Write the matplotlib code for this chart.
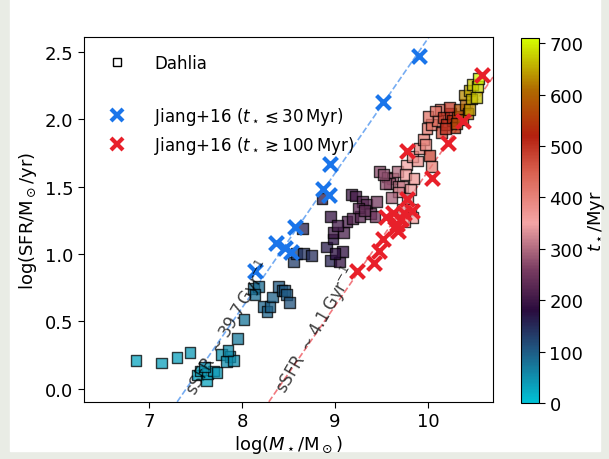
import numpy as np
import matplotlib.pyplot as plt
from matplotlib.colors import LinearSegmentedColormap
from matplotlib.lines import Line2D
from matplotlib.patches import Rectangle

plt.rcParams['font.family'] = ['DejaVu Sans']
plt.rcParams['mathtext.fontset'] = 'dejavusans'

# Dahlia galaxies: log stellar mass, log SFR, stellar age (Myr)
dahlia_logm = [6.86, 7.13, 7.30, 7.44, 7.52, 7.55, 7.62, 7.63, 7.69, 7.73, 7.60, 7.78, 7.87, 7.83, 7.91, 7.85,
               7.95, 8.02, 8.12, 8.18, 8.23, 8.27, 8.30, 8.33, 8.39, 8.43, 8.46, 8.48, 8.51, 8.14,
               8.55, 8.59, 8.66, 8.75, 8.65, 8.86, 8.91, 8.95, 8.98, 9.05, 9.08, 9.00,
               8.98, 9.09, 8.95, 9.13, 9.19, 9.27, 9.18, 9.22, 9.30, 9.34, 9.38, 9.43, 9.45, 9.25, 9.32, 9.03,
               9.48, 9.56, 9.62, 9.67, 9.59, 9.54, 9.52, 9.68, 9.73, 9.68, 9.61,
               9.77, 9.81, 9.78, 9.81, 9.84, 9.75, 9.72, 9.76, 9.85, 9.83, 9.89,
               9.91, 9.95, 9.99, 10.02, 10.04, 10.04, 10.10, 9.97, 10.00, 10.13, 10.08, 10.15,
               10.17, 10.20, 10.24, 10.26, 10.29, 10.19, 10.32, 10.23,
               10.34, 10.37, 10.40, 10.43, 10.31, 10.39,
               10.45, 10.48, 10.53, 10.54, 10.47, 10.52, 10.45]
dahlia_logsfr = [0.21, 0.19, 0.23, 0.27, 0.10, 0.13, 0.06, 0.11, 0.13, 0.12, 0.16, 0.25, 0.24, 0.20, 0.21, 0.28,
                 0.37, 0.51, 0.74, 0.76, 0.61, 0.57, 0.61, 0.68, 0.76, 0.73, 0.73, 0.70, 0.64, 0.70,
                 0.94, 1.00, 1.00, 0.99, 1.19, 1.41, 1.05, 0.95, 1.11, 0.94, 1.02, 1.00,
                 1.16, 1.16, 1.28, 1.24, 1.26, 1.28, 1.44, 1.43, 1.39, 1.37, 1.30, 1.28, 1.39, 1.34, 1.32, 1.21,
                 1.61, 1.57, 1.56, 1.61, 1.52, 1.52, 1.59, 1.50, 1.50, 1.46, 1.42,
                 1.66, 1.48, 1.41, 1.33, 1.27, 1.24, 1.33, 1.59, 1.56, 1.72, 1.69,
                 1.78, 1.85, 1.93, 1.73, 1.65, 1.96, 1.99, 1.81, 2.02, 2.07, 2.06, 1.90,
                 2.01, 1.96, 2.04, 1.99, 1.94, 1.93, 2.02, 2.09,
                 2.07, 2.00, 2.11, 2.04, 1.97, 2.18,
                 2.21, 2.26, 2.24, 2.30, 2.15, 2.16, 2.07]
dahlia_age = [30, 35, 35, 40, 25, 30, 30, 35, 40, 40, 45, 45, 50, 50, 50, 55,
              70, 75, 85, 85, 90, 90, 95, 95, 100, 100, 105, 100, 110, 80,
              130, 130, 140, 145, 160, 170, 165, 160, 175, 190, 185, 180,
              200, 210, 190, 215, 220, 225, 200, 210, 220, 230, 240, 250, 255, 225, 235, 205,
              270, 280, 290, 300, 285, 275, 275, 310, 320, 330, 290,
              350, 345, 340, 350, 355, 350, 340, 360, 365, 370, 375,
              390, 400, 410, 480, 400, 430, 440, 395, 420, 440, 430, 470,
              500, 510, 520, 530, 540, 500, 550, 490,
              580, 590, 600, 620, 570, 630,
              650, 670, 680, 700, 660, 670, 640]

# Jiang+16 young (t < 30 Myr)
young_logm = [8.14, 8.37, 8.46, 8.53, 8.57, 8.87, 8.94, 8.95, 9.52, 9.90]
young_logsfr = [0.87, 1.08, 1.04, 1.01, 1.20, 1.48, 1.44, 1.67, 2.13, 2.47]

# Jiang+16 old (t > 100 Myr)
old_logm = [9.24, 9.42, 9.47, 9.52, 9.55, 9.62, 9.67, 9.71, 9.65, 9.74, 9.77, 9.83, 9.78, 10.04,
            10.22, 10.38, 10.58, 9.68]
old_logsfr = [0.87, 0.93, 1.02, 1.11, 1.27, 1.30, 1.22, 1.26, 1.19, 1.30, 1.41, 1.32, 1.76, 1.56,
              1.82, 1.99, 2.33, 1.17]

ssfr_young = 39.7  # Gyr^-1
ssfr_old = 4.1

cmap = LinearSegmentedColormap.from_list('age', [
    (0.0, '#00c2d6'), (100 / 710, '#1f5a84'), (180 / 710, '#2a0b3d'),
    (260 / 710, '#7a3d62'), (350 / 710, '#f4a5a5'), (450 / 710, '#d9604f'),
    (520 / 710, '#b3200f'), (610 / 710, '#b06a00'), (1.0, '#d4ff00')])

fig = plt.figure(figsize=(6.09, 4.60), dpi=100, facecolor='#e9ece5')
fig.patches.append(Rectangle((10 / 609, 8 / 460), 590 / 609, 452 / 460,
                             transform=fig.transFigure, color='white', zorder=-1))
ax = fig.add_axes([84 / 609, 57 / 460, 409 / 609, 365 / 460])
cax = fig.add_axes([521 / 609, 56 / 460, 18 / 609, 365 / 460])

xx = np.array([6.3, 10.7])
ax.plot(xx, xx + np.log10(ssfr_young * 1e-9), ls='--', color='#1a75ea', alpha=0.6, lw=1.2, zorder=1)
ax.plot(xx, xx + np.log10(ssfr_old * 1e-9), ls='--', color='#e8202a', alpha=0.6, lw=1.2, zorder=1)

sc = ax.scatter(dahlia_logm, dahlia_logsfr, c=dahlia_age, cmap=cmap, vmin=0, vmax=710,
                marker='s', s=60, edgecolors='k', linewidths=1, alpha=0.75, zorder=2)
ax.scatter(young_logm, young_logsfr, marker='x', s=100, linewidths=3, color='#1a75ea', zorder=3)
ax.scatter(old_logm, old_logsfr, marker='x', s=100, linewidths=3, color='#e8202a', zorder=3)

ax.text(7.86, 0.46, r'sSFR $\sim 39.7\,$Gyr$^{-1}$', rotation=60, rotation_mode='anchor',
        ha='center', va='center', fontsize=12, color='k', alpha=0.75)
ax.text(8.80, 0.44, r'sSFR $\sim 4.1\,$Gyr$^{-1}$', rotation=60, rotation_mode='anchor',
        ha='center', va='center', fontsize=12, color='k', alpha=0.75)

ax.set_xlim(6.3, 10.7)
ax.set_ylim(-0.1, 2.61)
ax.set_xticks([7, 8, 9, 10])
ax.set_yticks([0, 0.5, 1.0, 1.5, 2.0, 2.5])
ax.set_yticklabels(['0.0', '0.5', '1.0', '1.5', '2.0', '2.5'])
ax.tick_params(labelsize=13, length=4)
ax.set_xlabel(r'log($M_\star$/M$_\odot$)', fontsize=13, labelpad=2)
ax.set_ylabel(r'log(SFR/M$_\odot$/yr)', fontsize=13, labelpad=4)

handles = [
    Line2D([], [], marker='s', ls='none', mfc='white', mec='k', ms=6, label='Dahlia'),
    Line2D([], [], ls='none', label=' '),
    Line2D([], [], marker='x', ls='none', mec='#1a75ea', mew=3, ms=8,
           label=r'Jiang+16 ($t_\star \lesssim 30\,$Myr)'),
    Line2D([], [], marker='x', ls='none', mec='#e8202a', mew=3, ms=8,
           label=r'Jiang+16 ($t_\star \gtrsim 100\,$Myr)'),
]
ax.legend(handles=handles, loc='upper left', frameon=False, fontsize=12,
          labelspacing=0.45, handletextpad=1.2, borderaxespad=0.6)

cb = fig.colorbar(sc, cax=cax)
cb.solids.set_alpha(1)
cb.set_ticks([0, 100, 200, 300, 400, 500, 600, 700])
cb.ax.tick_params(labelsize=13, length=4)
cb.set_label(r'$t_\star$/Myr', fontsize=13, labelpad=2)

fig.savefig('out.png', dpi=100, facecolor=fig.get_facecolor())
